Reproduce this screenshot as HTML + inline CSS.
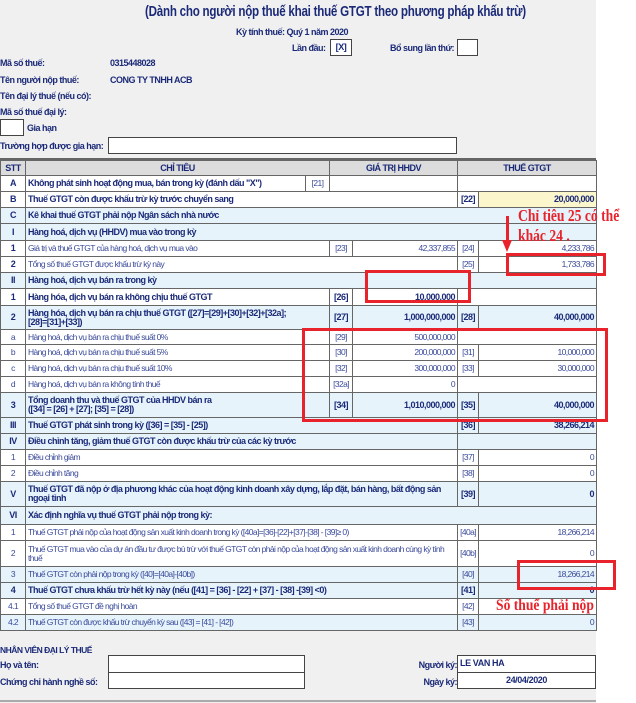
<!DOCTYPE html>
<html><head><meta charset="utf-8"><style>
*{margin:0;padding:0;box-sizing:border-box}
body{width:636px;height:703px;background:#fff;position:relative;overflow:hidden;font-family:"Liberation Sans",sans-serif;color:#1b2a78}
#panel{position:absolute;left:0;top:0;width:596px;height:703px;background:#f0f0f0}
.a{position:absolute;white-space:nowrap;font-weight:bold;font-size:9px;letter-spacing:-0.5px}
.box{position:absolute;border:1px solid #444;background:#fff;font-weight:bold;font-size:9px;text-align:center;line-height:15px;letter-spacing:-0.4px}
table{position:absolute;left:0;top:160px;width:596px;border-collapse:collapse;table-layout:fixed;font-size:9px;letter-spacing:-0.5px}
td{border:1px solid #666;padding:0 2px;line-height:1.0;background:#fff;font-weight:bold;overflow:hidden;white-space:nowrap}
td.c{text-align:center}td.r{text-align:right}
tr.b td{background:#e6f3fb}
tr.h td{background:#dcdcdc;text-align:center}
td.n{font-weight:normal;color:#3a4a9a;font-size:8.5px;letter-spacing:-0.6px}
td.w{white-space:normal}
td.y{background:#fbf6cc!important}
.red{position:absolute;border:3px solid #e8232b}
.rt{position:absolute;font-family:"Liberation Serif",serif;font-weight:bold;color:#e8232b;font-size:17px;white-space:nowrap;transform:scaleX(0.8);transform-origin:left top}
</style></head><body>
<div id="panel"></div>
<div class="a" style="left:145px;top:4px;font-size:14.5px;letter-spacing:-0.3px;transform:scaleX(0.8);transform-origin:left top">(Dành cho người nộp thuế khai thuế GTGT theo phương pháp khấu trừ)</div>
<div class="a" style="left:236px;top:27px">Kỳ tính thuế: Quý 1 năm 2020</div>
<div class="a" style="left:292px;top:43px">Lần đầu:</div>
<div class="box" style="left:330px;top:39px;width:22px;height:17px">[X]</div>
<div class="a" style="left:390px;top:43px">Bổ sung lần thứ:</div>
<div class="box" style="left:457px;top:39px;width:21px;height:17px"></div>
<div class="a" style="left:0;top:58px">Mã số thuế:</div>
<div class="a" style="left:110px;top:58px">0315448028</div>
<div class="a" style="left:0;top:75px">Tên người nộp thuế:</div>
<div class="a" style="left:110px;top:75px">CONG TY TNHH ACB</div>
<div class="a" style="left:0;top:91px">Tên đại lý thuế (nếu có):</div>
<div class="a" style="left:0;top:107px">Mã số thuế đại lý:</div>
<div class="box" style="left:0;top:119px;width:24px;height:17px"></div>
<div class="a" style="left:27px;top:123px">Gia hạn</div>
<div class="a" style="left:0;top:141px">Trường hợp được gia hạn:</div>
<div class="box" style="left:108px;top:137px;width:349px;height:17px"></div>
<div style="position:absolute;left:0;top:158px;width:596px;height:2px;background:#666"></div>
<table>
<colgroup><col style="width:25px"><col style="width:280px"><col style="width:24px"><col style="width:23px"><col style="width:105px"><col style="width:21px"><col style="width:118px"></colgroup>
<tr class="h" style="height:15px"><td>STT</td><td colspan="2">CHỈ TIÊU</td><td colspan="2">GIÁ TRỊ HHDV</td><td colspan="2">THUẾ GTGT</td></tr>
<tr style="height:16px"><td class="c">A</td><td>Không phát sinh hoạt động mua, bán trong kỳ (đánh dấu "X")</td><td class="c n">[21]</td><td colspan="2"></td><td colspan="2"></td></tr>
<tr style="height:16px"><td class="c">B</td><td colspan="4">Thuế GTGT còn được khấu trừ kỳ trước chuyển sang</td><td class="c">[22]</td><td class="r y">20,000,000</td></tr>
<tr class="b" style="height:16px"><td class="c">C</td><td colspan="6">Kê khai thuế GTGT phải nộp Ngân sách nhà nước</td></tr>
<tr class="b" style="height:17px"><td class="c">I</td><td colspan="6">Hàng hoá, dịch vụ (HHDV) mua vào trong kỳ</td></tr>
<tr style="height:16px"><td class="c">1</td><td colspan="2" class="n">Giá trị và thuế GTGT của hàng hoá, dịch vụ mua vào</td><td class="c n">[23]</td><td class="r n">42,337,855</td><td class="c n">[24]</td><td class="r n">4,233,786</td></tr>
<tr style="height:16px"><td class="c">2</td><td colspan="4" class="n">Tổng số thuế GTGT  được khấu trừ kỳ này</td><td class="c n">[25]</td><td class="r n">1,733,786</td></tr>
<tr class="b" style="height:16px"><td class="c">II</td><td colspan="6">Hàng hoá, dịch vụ bán ra trong kỳ</td></tr>
<tr style="height:17px"><td class="c">1</td><td colspan="2">Hàng hóa, dịch vụ bán ra không chịu thuế GTGT</td><td class="c">[26]</td><td class="r">10,000,000</td><td colspan="2"></td></tr>
<tr class="b" style="height:24px"><td class="c">2</td><td colspan="2" class="w">Hàng hóa, dịch vụ bán ra chịu thuế GTGT ([27]=[29]+[30]+[32]+[32a];<br>[28]=[31]+[33])</td><td class="c">[27]</td><td class="r">1,000,000,000</td><td class="c">[28]</td><td class="r">40,000,000</td></tr>
<tr style="height:15px"><td class="c n">a</td><td colspan="2" class="n">Hàng hoá, dịch vụ bán ra chịu thuế suất 0%</td><td class="c n">[29]</td><td class="r n">500,000,000</td><td colspan="2"></td></tr>
<tr style="height:16px"><td class="c n">b</td><td colspan="2" class="n">Hàng hoá, dịch vụ bán ra chịu thuế suất 5%</td><td class="c n">[30]</td><td class="r n">200,000,000</td><td class="c n">[31]</td><td class="r n">10,000,000</td></tr>
<tr style="height:16px"><td class="c n">c</td><td colspan="2" class="n">Hàng hoá, dịch vụ bán ra chịu thuế suất 10%</td><td class="c n">[32]</td><td class="r n">300,000,000</td><td class="c n">[33]</td><td class="r n">30,000,000</td></tr>
<tr style="height:16px"><td class="c n">d</td><td colspan="2" class="n">Hàng hoá, dịch vụ bán ra không tính thuế</td><td class="c n">[32a]</td><td class="r n">0</td><td colspan="2"></td></tr>
<tr class="b" style="height:25px"><td class="c">3</td><td colspan="2" class="w">Tổng doanh thu và thuế GTGT của HHDV bán  ra<br>([34] = [26] + [27]; [35] = [28])</td><td class="c">[34]</td><td class="r">1,010,000,000</td><td class="c">[35]</td><td class="r">40,000,000</td></tr>
<tr class="b" style="height:16px"><td class="c">III</td><td colspan="4">Thuế GTGT phát sinh trong kỳ ([36] = [35] - [25])</td><td class="c">[36]</td><td class="r">38,266,214</td></tr>
<tr class="b" style="height:16px"><td class="c">IV</td><td colspan="4">Điều chỉnh tăng, giảm thuế GTGT còn được khấu trừ của các kỳ trước</td><td colspan="2"></td></tr>
<tr style="height:16px"><td class="c n">1</td><td colspan="4" class="n">Điều chỉnh giảm</td><td class="c n">[37]</td><td class="r n">0</td></tr>
<tr style="height:16px"><td class="c n">2</td><td colspan="4" class="n">Điều chỉnh tăng</td><td class="c n">[38]</td><td class="r n">0</td></tr>
<tr class="b" style="height:25px"><td class="c">V</td><td colspan="4" class="w">Thuế GTGT đã nộp ở địa phương khác của hoạt động kinh doanh xây dựng, lắp đặt, bán hàng, bất động sản ngoại tỉnh</td><td class="c">[39]</td><td class="r">0</td></tr>
<tr class="b" style="height:18px"><td class="c">VI</td><td colspan="6">Xác định nghĩa vụ thuế GTGT phải nộp trong kỳ:</td></tr>
<tr style="height:16px"><td class="c n">1</td><td colspan="4" class="n">Thuế GTGT phải nộp của hoạt động sản xuất kinh doanh trong kỳ ([40a]=[36]-[22]+[37]-[38] - [39]≥ 0)</td><td class="c n">[40a]</td><td class="r n">18,266,214</td></tr>
<tr style="height:26px"><td class="c n">2</td><td colspan="4" class="n w">Thuế GTGT mua vào của dự án đầu tư được bù trừ với thuế GTGT còn phải nộp của hoạt động sản xuất kinh doanh cùng kỳ tính thuế</td><td class="c n">[40b]</td><td class="r n">0</td></tr>
<tr class="b" style="height:16px"><td class="c n">3</td><td colspan="4" class="n">Thuế GTGT còn phải nộp trong kỳ ([40]=[40a]-[40b])</td><td class="c n">[40]</td><td class="r n">18,266,214</td></tr>
<tr class="b" style="height:16px"><td class="c">4</td><td colspan="4">Thuế GTGT chưa khấu trừ hết kỳ này (nếu ([41] = [36] - [22] + [37] - [38] -[39] &lt;0)</td><td class="c">[41]</td><td class="r">0</td></tr>
<tr style="height:16px"><td class="c n">4.1</td><td colspan="4" class="n">Tổng số thuế GTGT đề nghị hoàn</td><td class="c n">[42]</td><td class="r n"></td></tr>
<tr class="b" style="height:16px"><td class="c n">4.2</td><td colspan="4" class="n">Thuế GTGT còn được khấu trừ chuyển kỳ sau ([43] = [41] - [42])</td><td class="c n">[43]</td><td class="r n">0</td></tr>
</table>
<div class="a" style="left:0;top:645px;font-size:8.5px">NHÂN VIÊN ĐẠI LÝ THUẾ</div>
<div class="a" style="left:0;top:660px">Họ và tên:</div>
<div class="box" style="left:108px;top:655px;width:197px;height:18px"></div>
<div class="a" style="left:0;top:677px">Chứng chỉ hành nghề số:</div>
<div class="box" style="left:108px;top:672px;width:197px;height:17px"></div>
<div class="a" style="left:400px;top:660px;width:57px;text-align:right">Người ký:</div>
<div class="box" style="left:457px;top:655px;width:139px;height:18px;text-align:left;padding-left:2px">LE VAN HA</div>
<div class="a" style="left:400px;top:677px;width:57px;text-align:right">Ngày ký:</div>
<div class="box" style="left:457px;top:672px;width:139px;height:17px">24/04/2020</div>
<div style="position:absolute;left:0;top:700px;width:596px;height:2px;background:#aaa"></div>
<div class="red" style="left:506px;top:253px;width:100px;height:23px"></div>
<div class="red" style="left:365px;top:270px;width:106px;height:33px"></div>
<div class="red" style="left:302px;top:328px;width:306px;height:94px"></div>
<div class="red" style="left:517px;top:560px;width:99px;height:30px"></div>
<div style="position:absolute;left:506px;top:216px;width:3px;height:28px;background:#e8232b"></div>
<div style="position:absolute;left:502px;top:240px;width:0;height:0;border-left:5.5px solid transparent;border-right:5.5px solid transparent;border-top:12px solid #e8232b"></div>
<div class="rt" style="left:518px;top:206px">Chỉ tiêu 25 có thể</div>
<div class="rt" style="left:518px;top:226px">khác 24 .</div>
<div class="rt" style="left:496px;top:597px;font-size:16px;transform:scaleX(0.85)">Số thuế phải nộp</div>
</body></html>
